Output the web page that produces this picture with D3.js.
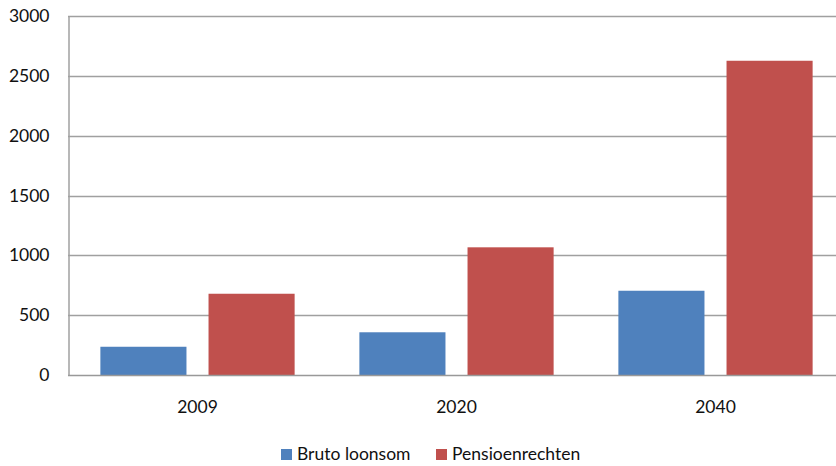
<!DOCTYPE html>
<html>
<head>
<meta charset="utf-8">
<script src="https://cdn.jsdelivr.net/npm/d3@7"></script>
<style>
  html, body { margin: 0; padding: 0; background: #fff; }
  svg { display: block; font-family: Lato, "Open Sans", sans-serif; }
</style>
</head>
<body>
<svg id="chart" width="836" height="466"></svg>
<script>
// Categories, series and axis ticks
const years = ["2009", "2020", "2040"];
const seriesNames = ["Bruto loonsom", "Pensioenrechten"];
const brutoLoonsom = [236, 357, 704];
const pensioenrechten = [679, 1067, 2626];
const yTicks = [0, 500, 1000, 1500, 2000, 2500, 3000];
const seriesColors = ["#4F81BD", "#C0504D"];

const series = [brutoLoonsom, pensioenrechten];

const svg = d3.select("#chart");
const margin = { left: 68, top: 16, bottom: 91 };
const plotBottom = 466 - margin.bottom;   // y of value 0
const plotRight = 845;                    // plot runs past the right edge

const x = d3.scaleBand()
  .domain(years)
  .range([margin.left, plotRight])
  .paddingInner(0.25)
  .paddingOuter(0.125);

const xInner = d3.scaleBand()
  .domain(seriesNames)
  .range([0, x.bandwidth()])
  .paddingInner(0.204);

const y = d3.scaleLinear()
  .domain([0, 3000])
  .range([plotBottom, margin.top]);

// Horizontal gridlines
svg.append("g")
  .selectAll("line")
  .data(yTicks.filter(d => d > 0))
  .join("line")
  .attr("x1", margin.left)
  .attr("x2", 836)
  .attr("y1", d => Math.round(y(d)) + 0.5)
  .attr("y2", d => Math.round(y(d)) + 0.5)
  .attr("stroke", "#a0a0a0")
  .attr("stroke-width", 1.5);

// Bars
const groups = svg.append("g")
  .selectAll("g")
  .data(years)
  .join("g")
  .attr("transform", d => `translate(${x(d)},0)`);

groups.selectAll("rect")
  .data((d, i) => seriesNames.map((s, j) => ({ s, j, v: series[j][i] })))
  .join("rect")
  .attr("x", d => xInner(d.s))
  .attr("width", xInner.bandwidth())
  .attr("y", d => y(d.v))
  .attr("height", d => y(0) - y(d.v))
  .attr("fill", d => seriesColors[d.j]);

// Y axis
const yAxis = svg.append("g")
  .attr("transform", `translate(${margin.left + 0.5},0)`)
  .call(d3.axisLeft(y).tickValues(yTicks).tickFormat(d3.format("d")).tickSize(0).tickPadding(19));
yAxis.select(".domain").attr("stroke", "#a0a0a0").attr("stroke-width", 1.5);
yAxis.selectAll("text")
  .attr("font-size", 17.5)
  .attr("fill", "#111")
  .attr("font-family", "Lato, 'Open Sans', sans-serif");

// X axis baseline
svg.append("line")
  .attr("x1", margin.left)
  .attr("x2", 836)
  .attr("y1", plotBottom + 0.5)
  .attr("y2", plotBottom + 0.5)
  .attr("stroke", "#999")
  .attr("stroke-width", 1.5);

// X category labels
svg.append("g")
  .selectAll("text")
  .data(years)
  .join("text")
  .attr("x", d => x(d) + x.bandwidth() / 2)
  .attr("y", 413)
  .attr("text-anchor", "middle")
  .attr("font-size", 17.5)
  .attr("fill", "#111")
  .text(d => d);

// Legend
const legendItems = [
  { name: seriesNames[0], color: seriesColors[0], x: 281 },
  { name: seriesNames[1], color: seriesColors[1], x: 436 }
];
const legend = svg.append("g")
  .selectAll("g")
  .data(legendItems)
  .join("g")
  .attr("transform", d => `translate(${d.x},449)`);
legend.append("rect")
  .attr("width", 11)
  .attr("height", 11)
  .attr("fill", d => d.color);
legend.append("text")
  .attr("x", 16)
  .attr("y", 11)
  .attr("font-size", 17.5)
  .attr("fill", "#111")
  .text(d => d.name);
</script>
</body>
</html>
